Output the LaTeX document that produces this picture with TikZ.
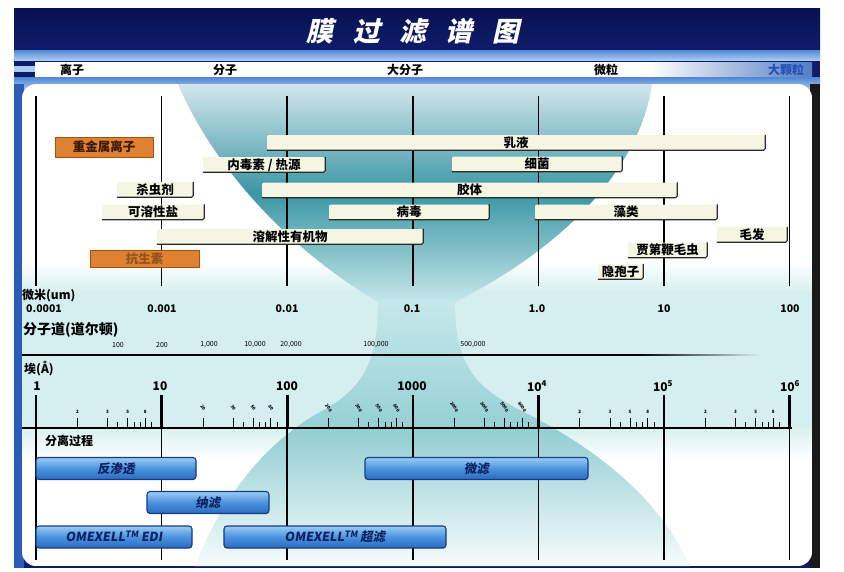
\documentclass[tikz,border=0pt]{standalone}
\usepackage{fontspec}
\setmainfont{Noto Sans CJK SC}
\newfontfamily\titlefont{Noto Sans CJK SC}[FakeSlant=0.22]
\newfontfamily\procfont{Noto Sans CJK SC}[FakeSlant=0.15]
\usepackage{tikz}
\usetikzlibrary{positioning, calc}
\definecolor{TitleNavy}{HTML}{081150}
\definecolor{FrameNavy}{HTML}{0E1C6B}
\definecolor{StripBlue}{HTML}{4F86D6}
\definecolor{StripLight}{HTML}{A9CBEF}
\definecolor{EdgeBlue}{HTML}{2A5DB5}
\definecolor{PanelCyan}{HTML}{D5EFF0}
\definecolor{NeckCyan}{HTML}{C6E8EA}
\definecolor{TealDark}{HTML}{3A96A4}
\definecolor{TealPale}{HTML}{D3E6EC}
\definecolor{TealMid}{HTML}{94CFD4}
\definecolor{Cream}{HTML}{F5F5E4}
\definecolor{Shelf}{HTML}{2A2A2A}
\definecolor{OrangeBar}{HTML}{DE8130}
\definecolor{OrangeEdge}{HTML}{A4500F}
\definecolor{OrangeText}{HTML}{3C1A04}
\definecolor{ProcTop}{HTML}{9ACCF4}
\definecolor{ProcMid}{HTML}{4A92DE}
\definecolor{ProcBot}{HTML}{2B6BC2}
\definecolor{ProcEdge}{HTML}{143A88}
\definecolor{ProcText}{HTML}{0D2262}
\definecolor{BigBlue}{HTML}{2452B4}
\newcommand{\barfont}{\fontsize{12.5}{13}\selectfont\bfseries}

\begin{document}
\begin{tikzpicture}[x=1pt, y=-1pt,
    creambar/.style={fill=Cream, rounded corners=2pt, inner sep=0pt, minimum height=15pt,
                     text height=11pt, text depth=1.5pt, font=\barfont},
    orangebar/.style={fill=OrangeBar, draw=OrangeEdge, line width=1pt, inner sep=0pt,
                      text height=11pt, text depth=1.5pt, text=OrangeText, font=\barfont},
    shelf/.style={draw=Shelf, line width=1.1pt, rounded corners=1.5pt},
    procbar/.style={draw=ProcEdge, line width=1.1pt, rounded corners=3pt, top color=ProcTop,
                    bottom color=ProcBot, middle color=ProcMid, inner sep=0pt, minimum height=22pt,
                    text height=11pt, text depth=1.5pt, text=ProcText,
                    font=\procfont\bfseries\fontsize{12.5}{13}\selectfont},
    hdlbl/.style={font=\bfseries\fontsize{12}{12}\selectfont, inner sep=0pt},
    rowlbl/.style={anchor=west, font=\bfseries\fontsize{12}{12}\selectfont, inner sep=0pt},
    numlbl/.style={font=\bfseries\fontsize{10.5}{11}\selectfont, inner sep=0pt},
    dallbl/.style={font=\fontsize{7}{7}\selectfont, inner sep=0pt},
    declbl/.style={font=\bfseries\fontsize{12}{12}\selectfont, inner sep=0pt},
    ticklbl/.style={font=\bfseries\fontsize{4.5}{4.5}\selectfont, inner sep=0pt},
    gridline/.style={line width=1.7pt},
    majortick/.style={line width=2.6pt},
    minortick/.style={line width=0.9pt}]
    \useasboundingbox (0,0) rectangle (844,571);
    \fill[white] (0,0) rectangle (844,571);

    % frame and title band
    \fill[FrameNavy] (14,8) rectangle (820,568);
    \shade[top color=TitleNavy, bottom color=FrameNavy] (14,8) rectangle (820,50);
    \shade[top color=StripBlue, bottom color=StripLight] (14,50) rectangle (820,60);
    \fill[StripLight] (14,66) rectangle (36,72);
    \fill[white] (35,62) rectangle (650,77);
    \shade[left color=white, right color=EdgeBlue!80] (649,62) rectangle (812,77);
    \shade[top color=StripBlue, bottom color=StripLight] (14,77) rectangle (820,90);
    \fill[EdgeBlue] (14,84) rectangle (24,568);
    \fill[black!90] (810,84) rectangle (820,568);
    \node[font=\titlefont\bfseries\fontsize{27}{27}\selectfont, text=white] (title) at (413,31)
        {膜\hspace{0.72em}过\hspace{0.72em}滤\hspace{0.72em}谱\hspace{0.72em}图};
    \foreach \x/\t [count=\i] in {72/离子, 225/分子, 405/大分子, 606/微粒}
        \node[hdlbl] (hd-\i) at (\x,70) {\t};
    \node[hdlbl, text=BigBlue] (hd-5) at (786,70) {大颗粒};

    % panel with the hourglass
    \begin{scope}
        \clip[rounded corners=14pt] (22,84) rectangle (812,566);
        \fill[white] (22,84) rectangle (812,566);
        \shade[top color=white, bottom color=PanelCyan] (22,262) rectangle (812,292);
        \fill[PanelCyan] (22,291) rectangle (812,426);
        \shade[top color=PanelCyan, bottom color=white] (22,425) rectangle (812,460);
        \shade[top color=TealPale, bottom color=NeckCyan, middle color=TealDark]
            (178,84) -- (652,84) .. controls (640,170) and (560,250) .. (455,302)
            -- (378,302) .. controls (290,250) and (215,170) .. (178,84) -- cycle;
        \shade[top color=NeckCyan, bottom color=white!80!PanelCyan, middle color=TealMid]
            (378,300) -- (455,300) .. controls (455,360) and (470,385) .. (520,410)
            .. controls (600,450) and (660,500) .. (690,566)
            -- (195,566) .. controls (225,490) and (270,440) .. (320,412)
            .. controls (365,388) and (378,360) .. (378,300) -- cycle;
    \end{scope}

    % decade lines
    \foreach \d in {0,...,6} {
        \draw[gridline] ({36+125.6*\d},96) -- ++(0,190);
        \draw[gridline] ({36+125.6*\d},395) -- ++(0,165);
        \draw[majortick] ({36+125.6*\d},395) -- ++(0,33);
    }

    % scales
    \node[rowlbl] (um) at (22,296) {微米(um)};
    \foreach \x/\v [count=\i] in {44/0.0001, 162/0.001, 287/0.01, 412/0.1, 537/1.0, 664/10, 790/100}
        \node[numlbl] (um-\i) at (\x,309) {\v};
    \node[rowlbl, font=\bfseries\fontsize{14}{14}\selectfont] (dal) at (23,330) {分子道(道尔顿)};
    \foreach \x/\v [count=\i] in {118/100, 162/200, 209/{1,000}, 255/{10,000}, 291/{20,000},
                                 376/{100,000}, 473/{500,000}}
        \node[dallbl] (dal-\i) at (\x,345) {\v};
    \draw[line width=1.8pt] (22,355) -- (640,355);
    \shade[left color=black, right color=PanelCyan] (639,354.1) rectangle (760,355.9);
    \node[rowlbl] (ang) at (24,369) {埃(Å)};
    \foreach \x/\v [count=\i] in {37/1, 160/10, 287/100, 412/1000, 537/10\textsuperscript{4},
                                 663/10\textsuperscript{5}, 790/10\textsuperscript{6}}
        \node[declbl] (dec-\i) at (\x,386) {\v};
    \draw[line width=1.4pt] (22,428) -- (792,428);
    \foreach \d/\la/\lb/\lc/\ld/\rot/\ly in {0/2/3/5/8/0/412, 1/20/30/50/80/-55/408,
            2/200/300/500/800/-55/408, 3/2000/3000/5000/8000/-55/407, 4/2/3/5/8/0/412, 5/2/3/5/8/0/412} {
        \foreach \f/\t [count=\k] in {0.33/\la, 0.57/\lb, 0.73/\lc, 0.87/\ld} {
            \draw[minortick] ({36+125.6*(\d+\f)},418) -- ++(0,10);
            \node[ticklbl] (tl-\d-\k) at ({36+125.6*(\d+\f)},\ly) {\rotatebox{\rot}{\t}};
        }
        \foreach \f in {0.65,0.78,0.83,0.92}
            \draw[minortick] ({36+125.6*(\d+\f)},422) -- ++(0,6);
    }

    % substances
    \node[orangebar, minimum width=98pt, minimum height=20pt] (zhongjin) at (104,147) {重金属离子};
    \node[orangebar, minimum width=109pt, minimum height=17pt, text=OrangeText!45!OrangeBar]
        (kangsheng) at (144.5,258.5) {抗生素};
    \node[creambar, minimum width=498pt] (ruye) at (516,142.5) {乳液};
    \node[creambar, minimum width=122pt] (neidu) at (264,164.5) {内毒素 / 热源};
    \node[creambar, minimum width=170pt] (xijun) at (537,164) {细菌};
    \node[creambar, minimum width=76pt] (shachong) at (155,189.5) {杀虫剂};
    \node[creambar, minimum width=415pt] (jiaoti) at (469.5,190) {胶体};
    \node[creambar, minimum width=102pt] (kerong) at (153,212) {可溶性盐};
    \node[creambar, minimum width=160pt] (bingdu) at (409,212) {病毒};
    \node[creambar, minimum width=182pt] (zaolei) at (626,212) {藻类};
    \node[creambar, minimum width=266pt] (rongjie) at (290,236.5) {溶解性有机物};
    \node[creambar, minimum width=70pt] (maofa) at (752,234.5) {毛发};
    \node[creambar, minimum width=79pt] (jiadi) at (667.5,250) {贾第鞭毛虫};
    \node[creambar, minimum width=45pt] (yinbao) at (620.5,271.5) {隐孢子};
    \foreach \n in {ruye, neidu, xijun, shachong, jiaoti, kerong, bingdu, zaolei, rongjie,
                    maofa, jiadi, yinbao}
        \draw[shelf] (\n.south west) -- (\n.south east) -- (\n.north east);

    % separation processes
    \node[rowlbl] (fenli) at (45,441) {分离过程};
    \node[procbar, minimum width=160pt] (fanshen) at (116,468.5) {反渗透};
    \node[procbar, minimum width=223pt] (weilv) at (476.5,468.5) {微滤};
    \node[procbar, minimum width=122pt] (nalv) at (208,502.5) {纳滤};
    \node[procbar, minimum width=156pt] (edi) at (114,537) {OMEXELL\textsuperscript{TM}\,EDI};
    \node[procbar, minimum width=222pt] (chaolv) at (335,537) {OMEXELL\textsuperscript{TM}\,超滤};
\end{tikzpicture}
\end{document}
